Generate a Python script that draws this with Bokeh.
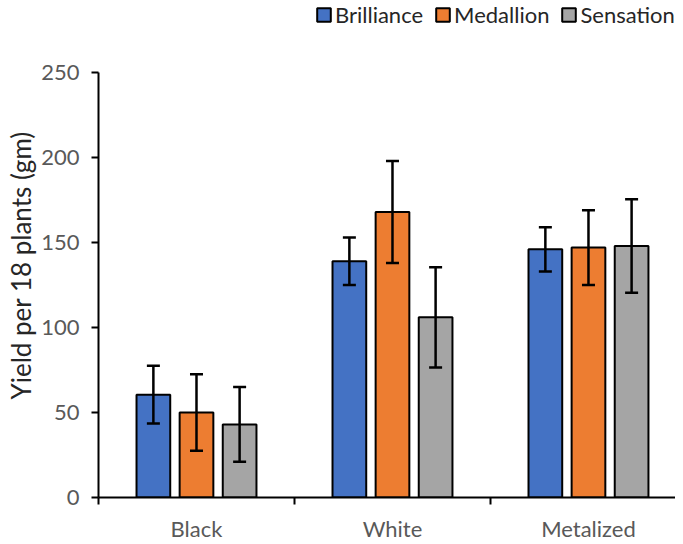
from bokeh.plotting import figure
from bokeh.models import (ColumnDataSource, Range1d, FixedTicker, Whisker, TeeHead,
                          Legend, LegendItem, Title)
from bokeh.embed import file_html
from bokeh.resources import INLINE

categories = ["Black", "White", "Metalized"]
varieties = ["Brilliance", "Medallion", "Sensation"]
colors = ["#4472C4", "#ED7D31", "#A5A5A5"]

brilliance = [60.5, 139, 146]
brilliance_err = [17, 14, 13]
medallion = [50, 168, 147]
medallion_err = [22.5, 30, 22]
sensation = [43, 106, 148]
sensation_err = [22, 29.5, 27.5]

y_ticks = [0, 50, 100, 150, 200, 250]
y_title = "Yield per 18 plants (gm)"

values = [brilliance, medallion, sensation]
errors = [brilliance_err, medallion_err, sensation_err]
offsets = [-0.22, 0.0, 0.22]

FONT = "Lato"
TXT = "#595959"

# frame extends above 250 to hold the legend; the axis itself stops at 250
p = figure(frame_width=577, frame_height=495, output_backend="svg", toolbar_location=None,
           x_range=Range1d(0, 2.944), y_range=Range1d(0, 291.2),
           min_border_left=90, min_border_right=0, min_border_top=2,
           min_border_bottom=30)
p.outline_line_color = None
p.grid.grid_line_color = None
p.background_fill_color = "white"
p.border_fill_color = "white"

renderers = []
whiskers = []
for vals, errs, off, col in zip(values, errors, offsets, colors):
    xs = [i + 0.5 + off for i in range(len(categories))]
    src = ColumnDataSource(dict(x=xs, top=vals,
                                upper=[v + e for v, e in zip(vals, errs)],
                                lower=[v - e for v, e in zip(vals, errs)]))
    r = p.vbar(x="x", top="top", bottom=0, width=0.172, source=src,
               fill_color=col, line_color="black", line_width=2)
    renderers.append(r)
    w = Whisker(base="x", upper="upper", lower="lower", source=src, level="overlay",
                line_color="black", line_width=2.5,
                upper_head=TeeHead(size=13, line_width=2.5, line_color="black"),
                lower_head=TeeHead(size=13, line_width=2.5, line_color="black"))
    whiskers.append(w)
for w in whiskers:
    p.add_layout(w)

# x axis: labels at category centres, ticks at boundaries
xa = p.xaxis[0]
xa.ticker = FixedTicker(ticks=[i + 0.5 for i in range(len(categories))],
                        minor_ticks=list(range(len(categories) + 1)))
xa.major_label_overrides = {i + 0.5: c for i, c in enumerate(categories)}
xa.major_tick_out = 0
xa.major_tick_in = 0
xa.minor_tick_out = 7
xa.minor_tick_in = 0
xa.minor_tick_line_color = "black"
xa.minor_tick_line_width = 2
xa.axis_line_color = "black"
xa.axis_line_width = 2
xa.major_label_standoff = 10
xa.major_label_text_font = FONT
xa.major_label_text_font_size = "22px"
xa.major_label_text_color = TXT

ya = p.yaxis[0]
ya.ticker = FixedTicker(ticks=y_ticks)
ya.bounds = (0, 250)
ya.minor_tick_line_color = None
ya.major_tick_out = 7
ya.major_tick_in = 0
ya.major_tick_line_width = 2
ya.major_tick_line_color = "black"
ya.axis_line_color = "black"
ya.axis_line_width = 2
ya.major_label_standoff = 12
ya.major_label_text_font = FONT
ya.major_label_text_font_size = "22px"
ya.major_label_text_color = TXT

title = Title(text=y_title, align="left", offset=98, standoff=4,
              text_font=FONT, text_font_size="26px", text_font_style="normal",
              text_color="#262626")
p.add_layout(title, "left")

legend = Legend(items=[LegendItem(label=v, renderers=[r]) for v, r in zip(varieties, renderers)],
                orientation="horizontal", location=(217, 469))
legend.border_line_color = None
legend.background_fill_alpha = 0
legend.padding = 0
legend.margin = 0
legend.spacing = 11
legend.glyph_width = 17
legend.glyph_height = 17
legend.label_standoff = 3
legend.label_text_font = FONT
legend.label_text_font_size = "22px"
legend.label_text_color = "#262626"
legend.label_height = 24
p.add_layout(legend)

open("out.html", "w").write(file_html(p, INLINE))
